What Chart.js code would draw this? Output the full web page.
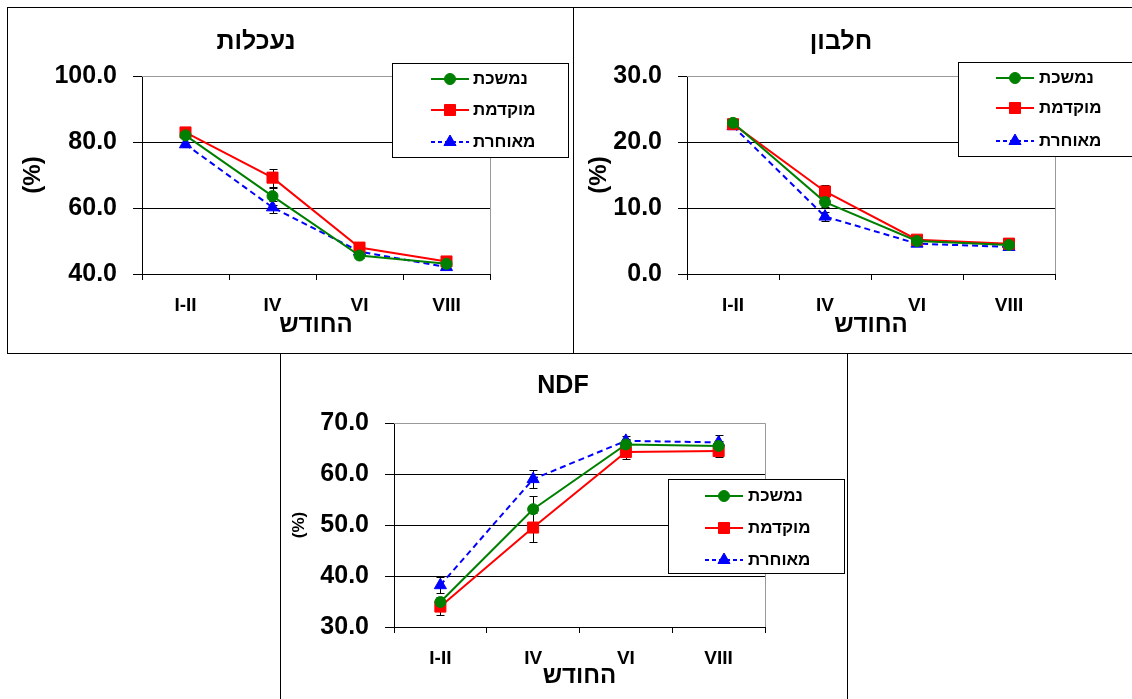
<!DOCTYPE html>
<html>
<head>
<meta charset="utf-8">
<script src="https://cdn.jsdelivr.net/npm/chart.js@4.4.1/dist/chart.umd.min.js"></script>
<style>
body { margin: 0; background: #fff; width: 1132px; height: 699px; position: relative; overflow: hidden; }
.box { position: absolute; border: 1px solid #000; background: #fff; box-sizing: border-box; }
.box canvas { position: absolute; left: -1px; top: -1px; }
</style>
</head>
<body>
<div class="box" style="left:7px;top:7px;width:567px;height:347px"><canvas id="c1" width="566" height="347"></canvas></div>
<div class="box" style="left:573px;top:7px;width:570px;height:347px"><canvas id="c2" width="559" height="347"></canvas></div>
<div class="box" style="left:280px;top:353px;width:568px;height:360px"><canvas id="c3" width="567" height="346"></canvas></div>

<script>
// categories and series names
const months = ['I-II', 'IV', 'VI', 'VIII'];
const seriesNames = ['נמשכת', 'מוקדמת', 'מאוחרת'];

// נעכלות (digestibility)
const digCont = [82.0, 63.6, 45.6, 43.1];
const digContErr = [0.8, 2.6, 0.6, 0.5];
const digEarly = [82.9, 69.2, 48.0, 43.8];
const digEarlyErr = [0.7, 2.7, 0.7, 0.6];
const digLate = [79.3, 60.2, 46.8, 42.1];
const digLateErr = [0.8, 1.8, 0.6, 0.6];
const digTicks = [40, 60, 80, 100];

// חלבון (protein)
const protCont = [22.9, 10.9, 5.0, 4.4];
const protContErr = [0.4, 0.8, 0.3, 0.3];
const protEarly = [22.7, 12.5, 5.2, 4.6];
const protEarlyErr = [0.4, 1.0, 0.3, 0.3];
const protLate = [22.4, 8.7, 4.6, 4.1];
const protLateErr = [0.4, 0.7, 0.3, 0.3];
const protTicks = [0, 10, 20, 30];

// NDF
const ndfCont = [34.9, 53.1, 65.8, 65.5];
const ndfContErr = [1.0, 2.6, 1.0, 1.0];
const ndfEarly = [34.0, 49.5, 64.3, 64.5];
const ndfEarlyErr = [1.6, 2.8, 1.3, 1.2];
const ndfLate = [38.2, 59.0, 66.5, 66.2];
const ndfLateErr = [1.6, 1.8, 1.0, 1.4];
const ndfTicks = [30, 40, 50, 60, 70];

const FONT = "'Liberation Sans', Arial, sans-serif";
Chart.defaults.font.family = FONT;
Chart.defaults.color = '#000';

const styles = [
    { color: '#008000', point: 'circle', radius: 5.5, dash: [] },
    { color: '#FF0000', point: 'rect', radius: 7.8, dash: [] },
    { color: '#0000FF', point: 'triangle', radius: 7, dash: [6, 4] }
];

// black error bars with caps, drawn under the markers
const errorBars = {
    id: 'errorBars',
    beforeDatasetsDraw(chart) {
        const ctx = chart.ctx, y = chart.scales.y;
        ctx.save();
        ctx.strokeStyle = '#000';
        ctx.lineWidth = 1;
        chart.data.datasets.forEach((ds, i) => {
            const meta = chart.getDatasetMeta(i);
            ds.errors.forEach((e, j) => {
                const x = Math.round(meta.data[j].x) + 0.5;
                const top = Math.round(y.getPixelForValue(ds.data[j] + e)) + 0.5;
                const bot = Math.round(y.getPixelForValue(ds.data[j] - e)) + 0.5;
                ctx.beginPath();
                ctx.moveTo(x, top); ctx.lineTo(x, bot);
                ctx.moveTo(x - 4, top); ctx.lineTo(x + 4, top);
                ctx.moveTo(x - 4, bot); ctx.lineTo(x + 4, bot);
                ctx.stroke();
            });
        });
        ctx.restore();
    }
};

// gray top/right edge of the plot area
const plotFrame = {
    id: 'plotFrame',
    beforeDatasetsDraw(chart) {
        const a = chart.chartArea, ctx = chart.ctx;
        ctx.save();
        ctx.strokeStyle = '#999';
        ctx.lineWidth = 1;
        ctx.beginPath();
        ctx.moveTo(Math.round(a.left), Math.round(a.top) + 0.5);
        ctx.lineTo(Math.round(a.right) + 0.5, Math.round(a.top) + 0.5);
        ctx.lineTo(Math.round(a.right) + 0.5, Math.round(a.bottom));
        ctx.stroke();
        ctx.restore();
    }
};

const boxTitle = {
    id: 'boxTitle',
    afterDraw(chart, args, o) {
        const ctx = chart.ctx;
        ctx.save();
        ctx.font = 'bold ' + o.size + 'px ' + FONT;
        ctx.fillStyle = '#000';
        ctx.textAlign = 'center';
        ctx.textBaseline = 'middle';
        ctx.fillText(o.text, o.x, o.y);
        ctx.restore();
    }
};

// legend box laid over the plot like the Excel one
const boxLegend = {
    id: 'boxLegend',
    afterDraw(chart, args, o) {
        const ctx = chart.ctx;
        ctx.save();
        ctx.fillStyle = '#fff';
        ctx.fillRect(o.x, o.y, o.w, o.h);
        ctx.strokeStyle = '#000';
        ctx.lineWidth = 1;
        ctx.strokeRect(o.x + 0.5, o.y + 0.5, o.w, o.h);
        chart.data.datasets.forEach((ds, i) => {
            const ry = o.rows[i];
            ctx.strokeStyle = ds.borderColor;
            ctx.lineWidth = 2;
            ctx.setLineDash(i === 2 ? [4, 3] : []);
            ctx.beginPath();
            ctx.moveTo(o.lineX0, ry);
            ctx.lineTo(o.lineX1, ry);
            ctx.stroke();
            ctx.setLineDash([]);
            ctx.fillStyle = ds.borderColor;
            ctx.lineWidth = 1;
            Chart.helpers.drawPoint(ctx, {
                pointStyle: ds.pointStyle, radius: ds.pointRadius, borderWidth: 1, rotation: 0
            }, (o.lineX0 + o.lineX1) / 2, ry);
            ctx.fillStyle = '#000';
            ctx.font = 'bold ' + o.size + 'px ' + FONT;
            ctx.textAlign = 'left';
            ctx.textBaseline = 'middle';
            ctx.fillText(ds.label, o.textX, ry);
        });
        ctx.restore();
    }
};

function makeChart(id, series, errors, ticks, cfg) {
    const datasets = series.map((data, i) => ({
        label: seriesNames[i],
        data: data,
        errors: errors[i],
        borderColor: styles[i].color,
        backgroundColor: styles[i].color,
        borderWidth: 2,
        borderDash: styles[i].dash,
        pointStyle: styles[i].point,
        pointRadius: styles[i].radius,
        pointBorderWidth: 1,
        pointBackgroundColor: styles[i].color,
        pointBorderColor: styles[i].color,
        tension: 0
    }));
    const yMax = ticks[ticks.length - 1];
    return new Chart(document.getElementById(id), {
        type: 'line',
        data: { labels: months, datasets: datasets },
        options: {
            responsive: false,
            animation: false,
            devicePixelRatio: 1,
            events: [],
            layout: { padding: cfg.padding },
            scales: {
                x: {
                    offset: true,
                    grid: { offset: true, drawOnChartArea: false, tickLength: 6, color: '#000' },
                    border: { color: '#000', width: 1 },
                    ticks: { font: { size: 19, weight: 'bold' }, padding: cfg.xTickPad, color: '#000' },
                    title: {
                        display: true, text: 'החודש', color: '#000',
                        font: { size: 24, weight: 'bold' }, padding: { top: 0, bottom: cfg.xTitlePad }
                    },
                    afterFit: s => { s.height = cfg.xHeight; }
                },
                y: {
                    min: ticks[0],
                    max: yMax,
                    afterBuildTicks: s => { s.ticks = ticks.map(v => ({ value: v })); },
                    grid: {
                        tickLength: 9, tickColor: '#000',
                        color: c => (c.tick && c.tick.value === yMax) ? '#999' : '#000'
                    },
                    border: { color: '#000', width: 1 },
                    ticks: {
                        font: { size: 25, weight: 'bold' }, padding: 16, color: '#000',
                        callback: v => Number(v).toFixed(1)
                    },
                    title: {
                        display: true, text: '(%)', color: '#000',
                        font: { size: cfg.yTitleSize, weight: 'bold' }, padding: { top: cfg.yTitlePad, bottom: 0 }
                    },
                    afterFit: s => { s.width = cfg.yWidth; }
                }
            },
            plugins: {
                legend: { display: false },
                tooltip: { enabled: false },
                boxTitle: cfg.title,
                boxLegend: cfg.legend
            }
        },
        plugins: [plotFrame, errorBars, boxTitle, boxLegend]
    });
}

makeChart('c1', [digCont, digEarly, digLate], [digContErr, digEarlyErr, digLateErr], digTicks, {
    padding: { left: 5, top: 69, right: 83, bottom: 0 },
    yWidth: 130, xHeight: 80, xTickPad: 14, xTitlePad: 14, yTitleSize: 24, yTitlePad: 7,
    title: { text: 'נעכלות', x: 249, y: 35, size: 25 },
    legend: { x: 385, y: 56, w: 176, h: 94, rows: [72, 103, 135], lineX0: 424, lineX1: 462, textX: 466, size: 17 }
});

makeChart('c2', [protCont, protEarly, protLate], [protContErr, protEarlyErr, protLateErr], protTicks, {
    padding: { left: 5, top: 69, right: 77, bottom: 0 },
    yWidth: 109, xHeight: 80, xTickPad: 14, xTitlePad: 14, yTitleSize: 24, yTitlePad: 7,
    title: { text: 'חלבון', x: 268, y: 35, size: 25 },
    legend: { x: 385, y: 55, w: 190, h: 94, rows: [71, 101, 134], lineX0: 423, lineX1: 461, textX: 466, size: 17 }
});

makeChart('c3', [ndfCont, ndfEarly, ndfLate], [ndfContErr, ndfEarlyErr, ndfLateErr], ndfTicks, {
    padding: { left: 5, top: 70, right: 82, bottom: 0 },
    yWidth: 109, xHeight: 72, xTickPad: 14, xTitlePad: 8, yTitleSize: 17, yTitlePad: 4,
    title: { text: 'NDF', x: 283, y: 33, size: 25 },
    legend: { x: 388, y: 126, w: 176, h: 94, rows: [143, 175, 207], lineX0: 425, lineX1: 463, textX: 468, size: 17 }
});
</script>
</body>
</html>
